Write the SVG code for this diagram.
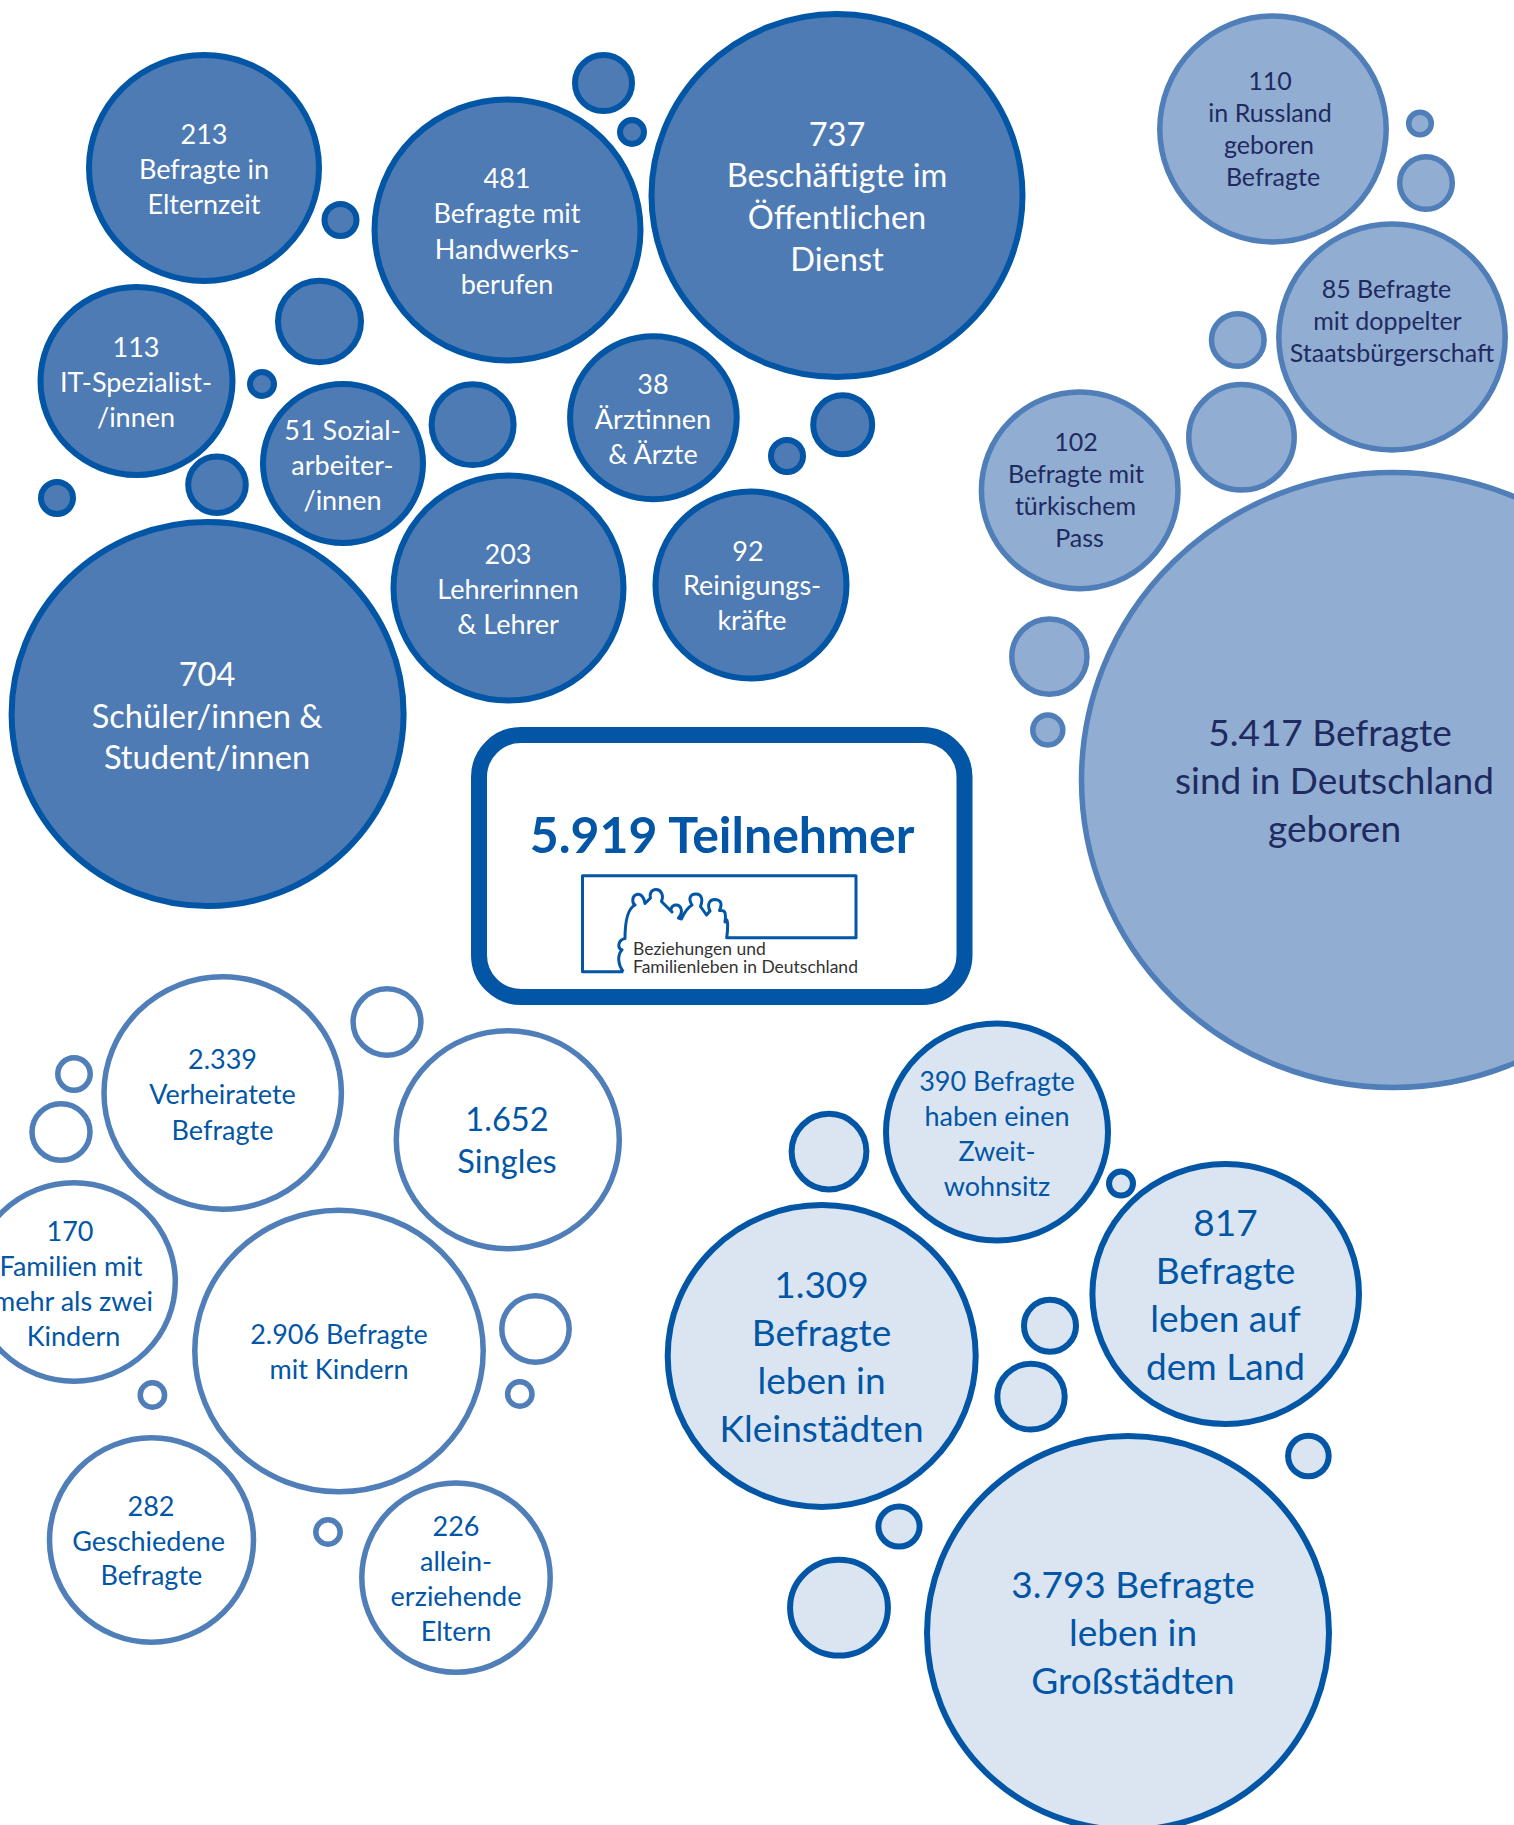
<svg xmlns="http://www.w3.org/2000/svg" width="1514" height="1825" viewBox="0 0 1514 1825">
<style>
text{font-family:"Lato","Liberation Sans",sans-serif;text-anchor:middle}
.a ellipse{fill:#4e7bb4;stroke:#0256a5;stroke-width:6}
.a text{fill:#fff}
.b ellipse{fill:#91aed2;stroke:#4f7eb8;stroke-width:5.5}
.b text{fill:#1f2a60}
.c ellipse{fill:#fff;stroke:#4f7eb8;stroke-width:5.5}
.c text{fill:#0256a5}
.d ellipse{fill:#dae5f1;stroke:#0256a5;stroke-width:6}
.d text{fill:#0256a5}
.s26{font-size:27px}.s24{font-size:25px}.s32{font-size:32.6px}.s36{font-size:37px}
</style>
<rect width="1514" height="1825" fill="#fff"/>
<g id="cluster-occupation" class="a">
<g id="n213"><ellipse cx="204" cy="168" rx="115" ry="113"/><text class="s26" x="204" y="144">213</text><text class="s26" x="204" y="178.5">Befragte in</text><text class="s26" x="204" y="213.5">Elternzeit</text></g>
<g id="n481"><ellipse cx="507.5" cy="230" rx="133" ry="130.5"/><text class="s26" x="507" y="188">481</text><text class="s26" x="507" y="223">Befragte mit</text><text class="s26" x="507" y="258.5">Handwerks-</text><text class="s26" x="507" y="293.5">berufen</text></g>
<g id="n737"><ellipse cx="837" cy="195.5" rx="185.5" ry="181.5"/><text class="s32" x="837" y="146">737</text><text class="s32" x="837" y="186.5">Beschäftigte im</text><text class="s32" x="837" y="228.5">Öffentlichen</text><text class="s32" x="837" y="270.5">Dienst</text></g>
<g id="n113"><ellipse cx="136.5" cy="381" rx="96" ry="94"/><text class="s26" x="136" y="357">113</text><text class="s26" x="136" y="392">IT-Spezialist-</text><text class="s26" x="136" y="426.5">/innen</text></g>
<g id="n51"><ellipse cx="343" cy="463.5" rx="80" ry="79.5"/><text class="s26" x="342.5" y="439.5">51 Sozial-</text><text class="s26" x="342.5" y="474.5">arbeiter-</text><text class="s26" x="342.5" y="509.5">/innen</text></g>
<g id="n38"><ellipse cx="653.4" cy="417.7" rx="83.3" ry="81.5"/><text class="s26" x="653" y="394">38</text><text class="s26" x="653" y="428.5">Ärztinnen</text><text class="s26" x="653" y="463.5">&amp; Ärzte</text></g>
<g id="n203"><ellipse cx="508.5" cy="588" rx="115" ry="112.5"/><text class="s26" x="508" y="564">203</text><text class="s26" x="508" y="598.5">Lehrerinnen</text><text class="s26" x="508" y="633.5">&amp; Lehrer</text></g>
<g id="n92"><ellipse cx="751" cy="585" rx="95.5" ry="93.5"/><text class="s26" x="748" y="560.5">92</text><text class="s26" x="752" y="595">Reinigungs-</text><text class="s26" x="752" y="630">kräfte</text></g>
<g id="n704"><ellipse cx="207.6" cy="714" rx="196" ry="192"/><text class="s32" x="207" y="686">704</text><text class="s32" x="207" y="727.5">Schüler/innen &amp;</text><text class="s32" x="207" y="769">Student/innen</text></g>
<g id="a1"><ellipse cx="340.5" cy="220" rx="16" ry="16"/></g>
<g id="a2"><ellipse cx="603.5" cy="83" rx="28.5" ry="28"/></g>
<g id="a3"><ellipse cx="632" cy="132" rx="12" ry="12"/></g>
<g id="a4"><ellipse cx="319.5" cy="321.5" rx="41.5" ry="40.7"/></g>
<g id="a5"><ellipse cx="262" cy="384" rx="12" ry="12"/></g>
<g id="a6"><ellipse cx="472.6" cy="424.7" rx="41" ry="40.4"/></g>
<g id="a7"><ellipse cx="217" cy="484.8" rx="28.8" ry="28.2"/></g>
<g id="a8"><ellipse cx="57" cy="498" rx="16" ry="16"/></g>
<g id="a9"><ellipse cx="842.7" cy="424.7" rx="29.5" ry="29.5"/></g>
<g id="a10"><ellipse cx="787" cy="456" rx="16" ry="16"/></g>
</g>
<g id="cluster-origin" class="b">
<g id="n110"><ellipse cx="1273" cy="129" rx="113.2" ry="113"/><text class="s24" x="1270" y="90">110</text><text class="s24" x="1270" y="122">in Russland</text><text class="s24" x="1269" y="154">geboren</text><text class="s24" x="1273" y="186">Befragte</text></g>
<g id="n85"><ellipse cx="1392" cy="337" rx="113.2" ry="113"/><text class="s24" x="1386.5" y="298">85 Befragte</text><text class="s24" x="1387.5" y="330">mit doppelter</text><text class="s24" x="1392" y="362">Staatsbürgerschaft</text></g>
<g id="n102"><ellipse cx="1079.7" cy="490.4" rx="98.3" ry="98.3"/><text class="s24" x="1076" y="451">102</text><text class="s24" x="1076" y="483">Befragte mit</text><text class="s24" x="1075.5" y="515">türkischem</text><text class="s24" x="1079.5" y="547">Pass</text></g>
<g id="n5417"><ellipse cx="1393" cy="780" rx="311.5" ry="307.5"/><text class="s36" x="1330" y="746">5.417 Befragte</text><text class="s36" x="1334.5" y="794">sind in Deutschland</text><text class="s36" x="1334.5" y="842">geboren</text></g>
<g id="b1"><ellipse cx="1420" cy="123.5" rx="11.3" ry="11.3"/></g>
<g id="b2"><ellipse cx="1426" cy="183" rx="26.3" ry="26.3"/></g>
<g id="b3"><ellipse cx="1237.8" cy="340" rx="26.3" ry="26.3"/></g>
<g id="b4"><ellipse cx="1241.5" cy="437.3" rx="52.7" ry="52.7"/></g>
<g id="b5"><ellipse cx="1049.4" cy="656.6" rx="37.6" ry="37.6"/></g>
<g id="b6"><ellipse cx="1047.8" cy="730" rx="15" ry="15"/></g>
</g>
<g id="cluster-family" class="c">
<g id="n2339"><ellipse cx="222.7" cy="1093" rx="118.7" ry="116.2"/><text class="s26" x="222.5" y="1069">2.339</text><text class="s26" x="222.5" y="1104">Verheiratete</text><text class="s26" x="222.5" y="1140">Befragte</text></g>
<g id="n1652"><ellipse cx="507.8" cy="1139.8" rx="111.5" ry="109"/><text class="s32" x="507" y="1131">1.652</text><text class="s32" x="507" y="1173">Singles</text></g>
<g id="n170"><ellipse cx="74" cy="1282" rx="101.3" ry="99.2"/><text class="s26" x="70" y="1240.5">170</text><text class="s26" x="71" y="1276">Familien mit</text><text class="s26" x="73" y="1311">mehr als zwei</text><text class="s26" x="73.5" y="1346">Kindern</text></g>
<g id="n2906"><ellipse cx="339" cy="1351" rx="144.2" ry="140.7"/><text class="s26" x="339" y="1343.5">2.906 Befragte</text><text class="s26" x="339" y="1379">mit Kindern</text></g>
<g id="n282"><ellipse cx="151.5" cy="1540" rx="102" ry="102.2"/><text class="s26" x="151" y="1515.5">282</text><text class="s26" x="148.6" y="1550.5">Geschiedene</text><text class="s26" x="151.4" y="1585">Befragte</text></g>
<g id="n226"><ellipse cx="456" cy="1577.7" rx="94.2" ry="94.6"/><text class="s26" x="456" y="1535.5">226</text><text class="s26" x="456" y="1570.5">allein-</text><text class="s26" x="456" y="1605.5">erziehende</text><text class="s26" x="456" y="1640.5">Eltern</text></g>
<g id="c1"><ellipse cx="387" cy="1022" rx="33.9" ry="33.2"/></g>
<g id="c2"><ellipse cx="74" cy="1074" rx="16.2" ry="16.2"/></g>
<g id="c3"><ellipse cx="61" cy="1132" rx="29" ry="28.2"/></g>
<g id="c4"><ellipse cx="535.5" cy="1329" rx="33.7" ry="33.2"/></g>
<g id="c5"><ellipse cx="519.8" cy="1394" rx="12.2" ry="12.2"/></g>
<g id="c6"><ellipse cx="152.4" cy="1395" rx="12.2" ry="12.2"/></g>
<g id="c7"><ellipse cx="328" cy="1532" rx="12.2" ry="12.2"/></g>
</g>
<g id="cluster-residence" class="d">
<g id="n390"><ellipse cx="997" cy="1132" rx="111" ry="108.5"/><text class="s26" x="997" y="1090.5">390 Befragte</text><text class="s26" x="997" y="1125.5">haben einen</text><text class="s26" x="997" y="1160.5">Zweit-</text><text class="s26" x="997" y="1195.5">wohnsitz</text></g>
<g id="n817"><ellipse cx="1225.7" cy="1294" rx="133.3" ry="130"/><text class="s36" x="1225.5" y="1236">817</text><text class="s36" x="1225.5" y="1284">Befragte</text><text class="s36" x="1225.5" y="1332">leben auf</text><text class="s36" x="1225.5" y="1380">dem Land</text></g>
<g id="n1309"><ellipse cx="821.7" cy="1356" rx="154" ry="150.9"/><text class="s36" x="821.5" y="1298">1.309</text><text class="s36" x="821.5" y="1346">Befragte</text><text class="s36" x="821.5" y="1394">leben in</text><text class="s36" x="821.5" y="1442">Kleinstädten</text></g>
<g id="n3793"><ellipse cx="1128" cy="1633" rx="201" ry="197"/><text class="s36" x="1133" y="1598">3.793 Befragte</text><text class="s36" x="1133" y="1646">leben in</text><text class="s36" x="1133" y="1694">Großstädten</text></g>
<g id="d1"><ellipse cx="829" cy="1151.6" rx="37.4" ry="37.8"/></g>
<g id="d2"><ellipse cx="1121" cy="1183.6" rx="12" ry="12"/></g>
<g id="d3"><ellipse cx="1050" cy="1325.7" rx="26" ry="26"/></g>
<g id="d4"><ellipse cx="1031" cy="1396.7" rx="33.7" ry="32.9"/></g>
<g id="d5"><ellipse cx="1308.4" cy="1456" rx="20.3" ry="20.3"/></g>
<g id="d6"><ellipse cx="899" cy="1526.6" rx="20.6" ry="20"/></g>
<g id="d7"><ellipse cx="839" cy="1607.7" rx="48.9" ry="47.9"/></g>
</g>
<g id="center">
<rect x="479" y="735" width="485.5" height="262" rx="42" ry="42" fill="#fff" stroke="#0256a5" stroke-width="16"/>
<text x="722" y="852.5" font-size="50" font-weight="700" fill="#0256a5">5.919 Teilnehmer</text>
<path d="M623.3,971.7 L582.5,971.7 L582.5,875.7 L856,875.7 L856,937.7 L726.7,937.7 C728.5,925 727.5,915 725,922 C727,908 722,911 719.5,910.5 C722,905 722,900 715,899.5 C709,899.5 707,905 710,911 L706.5,915 L700.5,906.5 C703,900 702,894 696,894 C690,894 688,899 692,905 C687,908 684,913 681.5,919 L678.5,918 C684,912 681,904 675,905 C671,906 670,910 672,912 L661.5,901.5 C664,895 661,889.5 656,889.5 C651,889.5 649.5,894 650.5,898 L645,903.5 C643.5,895 639,893 635.5,895 C631.5,897 632.5,904 635,905 C627,909 625,922 625,938.5 C618,940 617,948 622,950 C617,955 618,965 623.3,971.7" fill="none" stroke="#0256a5" stroke-width="3" stroke-linejoin="round"/>
<text x="633" y="955" font-size="17.5" fill="#333" style="text-anchor:start">Beziehungen und</text>
<text x="633" y="972.5" font-size="17.5" fill="#333" style="text-anchor:start">Familienleben in Deutschland</text>
</g>
</svg>
